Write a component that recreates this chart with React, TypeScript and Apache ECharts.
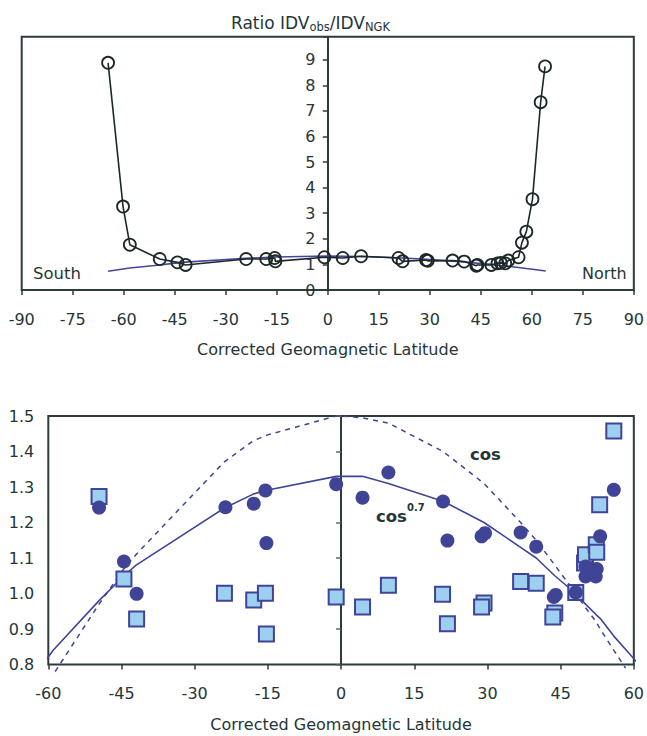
import React, { useEffect, useRef } from "react";
import * as echarts from "echarts";

// ---------- Top panel: ratio IDVobs/IDVNGK ----------
const TOP_LAT = [-64.6, -60.2, -58.2, -49.4, -44.2, -41.8, -24.0, -18.1, -15.6, -15.4, -1.0, 4.4, 9.8, 20.8, 22.0, 28.9, 29.4, 36.7, 40.1, 43.7, 44.0, 48.1, 49.9, 50.9, 52.2, 53.1, 56.1, 57.1, 58.4, 60.2, 62.6, 63.9];
const TOP_RATIO = [8.88, 3.26, 1.77, 1.21, 1.08, 0.98, 1.21, 1.21, 1.25, 1.12, 1.28, 1.25, 1.32, 1.25, 1.12, 1.17, 1.14, 1.15, 1.11, 0.95, 0.98, 0.98, 1.04, 1.06, 1.04, 1.15, 1.28, 1.85, 2.28, 3.55, 7.34, 8.74];
const TOP_MODEL_LAT = [-64.6, -60.2, -58.2, -49.4, -44.2, -41.8, -24.0, -15.5, 0, 9.8, 20.8, 29.0, 36.7, 40.1, 43.8, 48.1, 50.0, 53.1, 56.1, 58.4, 60.2, 64.1];
const TOP_MODEL_VAL = [0.73, 0.82, 0.86, 0.98, 1.06, 1.09, 1.24, 1.29, 1.33, 1.31, 1.26, 1.2, 1.13, 1.1, 1.05, 1.0, 0.97, 0.93, 0.88, 0.84, 0.81, 0.74];

// ---------- Bottom panel ----------
const DOT_LAT = [-49.6, -44.5, -41.9, -23.7, -17.9, -15.5, -15.3, -1.0, 4.4, 9.7, 20.9, 21.8, 28.8, 29.5, 36.8, 40.0, 43.6, 44.0, 48.1, 50.1, 50.1, 52.4, 52.2, 53.1, 55.9];
const DOT_VAL = [1.242, 1.09, 0.999, 1.243, 1.253, 1.29, 1.142, 1.308, 1.27, 1.341, 1.259, 1.149, 1.161, 1.17, 1.172, 1.132, 0.99, 0.996, 1.003, 1.076, 1.048, 1.069, 1.048, 1.161, 1.292];
const SQ_LAT = [-49.6, -44.5, -41.9, -23.9, -17.9, -15.5, -15.3, -1.0, 4.4, 9.7, 20.8, 21.8, 29.3, 28.8, 36.8, 40.0, 43.8, 43.4, 48.1, 49.9, 50.1, 52.3, 52.4, 53.0, 55.9];
const SQ_VAL = [1.273, 1.041, 0.928, 1.001, 0.982, 1.001, 0.886, 0.99, 0.962, 1.023, 0.998, 0.915, 0.973, 0.962, 1.034, 1.029, 0.945, 0.934, 1.003, 1.086, 1.109, 1.137, 1.116, 1.25, 1.458];
const COS07_LAT = [-61.7, -59.0, -49.6, -44.5, -42.0, -24.0, -18.0, -15.5, -1.0, 0, 4.4, 9.7, 20.9, 29.3, 36.8, 40.0, 43.8, 48.1, 50.1, 52.3, 53.1, 55.9, 61.7];
const COS07_VAL = [0.79, 0.84, 0.98, 1.05, 1.08, 1.24, 1.28, 1.29, 1.33, 1.33, 1.33, 1.31, 1.26, 1.2, 1.13, 1.1, 1.05, 1.0, 0.97, 0.94, 0.93, 0.88, 0.79];
const COS_LAT = [-58.6, -49.6, -44.5, -42.0, -24.0, -18.0, -15.5, -1.0, 0, 4.4, 9.7, 20.9, 29.3, 36.8, 40.0, 43.8, 48.1, 50.1, 52.3, 53.1, 55.9, 58.3];
const COS_VAL = [0.78, 0.97, 1.07, 1.11, 1.37, 1.43, 1.445, 1.5, 1.5, 1.495, 1.48, 1.4, 1.31, 1.2, 1.15, 1.08, 1.0, 0.96, 0.92, 0.9, 0.84, 0.79];

const TEXT = "#253636";
const FRAME = "#2c3c3c";
const BLUE = "#3f4496";
const LIGHT = "#9dd0f0";
const FONT = "DejaVu Sans";

const TOP_LEFT = 21.7;
const TOP_WIDTH = 613.3;

const zip = (a: number[], b: number[]) => a.map((v, i) => [v, b[i]]);

export default function App() {
  const ref = useRef<HTMLDivElement>(null);
  useEffect(() => {
    if (!ref.current) return;
    const chart = echarts.init(ref.current, undefined, { renderer: "svg" });
    const labelStyle = { color: TEXT, fontFamily: FONT, fontSize: 16 };
    chart.setOption({
      animation: false,
      backgroundColor: "#fff",
      title: {
        left: 226,
        top: 8,
        text: "{a|Ratio IDV}{b|obs}{a|/IDV}{b|NGK}",
        textStyle: {
          fontWeight: "normal",
          rich: {
            a: { fontFamily: FONT, fontSize: 17, fontWeight: "normal", color: TEXT, lineHeight: 20 },
            b: { fontFamily: FONT, fontSize: 11.5, fontWeight: "normal", color: TEXT, lineHeight: 11.5, verticalAlign: "bottom" },
          },
        },
      },
      grid: [
        { left: TOP_LEFT, top: 36.7, width: TOP_WIDTH, height: 253.3, show: true, borderColor: FRAME, borderWidth: 2, backgroundColor: "transparent" },
        { left: 48.3, top: 416, width: 587.7, height: 248.5, show: true, borderColor: FRAME, borderWidth: 2, backgroundColor: "transparent" },
      ],
      xAxis: [
        {
          gridIndex: 0, type: "value", min: -90, max: 90, interval: 15,
          axisLine: { show: false },
          axisTick: { show: true, length: 5, lineStyle: { color: FRAME, width: 1.5 } },
          axisLabel: { ...labelStyle, margin: 21 },
          splitLine: { show: false },
          name: "Corrected Geomagnetic Latitude", nameLocation: "middle", nameGap: 51,
          nameTextStyle: { color: TEXT, fontFamily: FONT, fontSize: 16 },
        },
        {
          gridIndex: 1, type: "value", min: -60, max: 60, interval: 15,
          axisLine: { show: false },
          axisTick: { show: true, length: 5, lineStyle: { color: FRAME, width: 1.5 } },
          axisLabel: { ...labelStyle, margin: 21 },
          splitLine: { show: false },
          name: "Corrected Geomagnetic Latitude", nameLocation: "middle", nameGap: 52,
          nameTextStyle: { color: TEXT, fontFamily: FONT, fontSize: 16 },
        },
      ],
      yAxis: [
        {
          gridIndex: 0, type: "value", min: 0, max: 9.9, interval: 1, position: "left",
          axisLine: { show: true, onZero: true, lineStyle: { color: FRAME, width: 2 } },
          axisTick: { show: true, length: 5, lineStyle: { color: FRAME, width: 1.5 } },
          axisLabel: { show: false },
          splitLine: { show: false },
        },
        {
          gridIndex: 0, type: "value", min: 0, max: 9.9, interval: 1, position: "left",
          offset: -(TOP_WIDTH / 2),
          axisLine: { show: false, onZero: false },
          axisTick: { show: false },
          axisLabel: { ...labelStyle, margin: 13, formatter: (v: number) => (Number.isInteger(v) ? String(v) : "") },
          splitLine: { show: false },
        },
        {
          gridIndex: 1, type: "value", min: 0.8, max: 1.5, interval: 0.1, position: "left",
          axisLine: { show: false, onZero: false },
          axisTick: { show: false },
          axisLabel: { ...labelStyle, margin: 14, formatter: (v: number) => v.toFixed(1) },
          splitLine: { show: false },
        },
        {
          gridIndex: 1, type: "value", min: 0.8, max: 1.5, interval: 0.1, position: "left",
          axisLine: { show: true, onZero: true, lineStyle: { color: FRAME, width: 2 } },
          axisTick: { show: true, length: 5, lineStyle: { color: "#5a6868", width: 1.5 } },
          axisLabel: { show: false },
          splitLine: { show: false },
        },
      ],
      graphic: [
        { type: "text", left: 33, top: 265, style: { text: "South", fill: TEXT, font: `16.5px '${FONT}'` } },
        { type: "text", left: 582, top: 265, style: { text: "North", fill: TEXT, font: `16px '${FONT}'` } },
        { type: "text", left: 470, top: 446, style: { text: "cos", fill: TEXT, font: `bold 16.5px '${FONT}'` } },
        { type: "text", left: 376, top: 508, style: { text: "cos", fill: TEXT, font: `bold 16.5px '${FONT}'` } },
        { type: "text", left: 407, top: 502, style: { text: "0.7", fill: TEXT, font: `bold 10px '${FONT}'` } },
      ],
      series: [
        {
          type: "line", xAxisIndex: 0, yAxisIndex: 0, data: zip(TOP_MODEL_LAT, TOP_MODEL_VAL),
          symbol: "none", lineStyle: { color: "#46469a", width: 1.6 }, z: 2,
        },
        {
          type: "line", xAxisIndex: 0, yAxisIndex: 0, data: zip(TOP_LAT, TOP_RATIO),
          symbol: "circle", symbolSize: 12,
          itemStyle: { color: "rgba(0,0,0,0)", borderColor: "#1c2828", borderWidth: 1.8 },
          lineStyle: { color: "#1c2828", width: 1.6 }, z: 3,
        },
        {
          type: "line", xAxisIndex: 1, yAxisIndex: 2, data: zip(COS_LAT, COS_VAL), clip: false,
          symbol: "none", lineStyle: { color: BLUE, width: 1.5, type: [5, 5] }, z: 2,
        },
        {
          type: "line", xAxisIndex: 1, yAxisIndex: 2, data: zip(COS07_LAT, COS07_VAL), clip: false,
          symbol: "none", lineStyle: { color: BLUE, width: 1.6 }, z: 2,
        },
        {
          type: "scatter", xAxisIndex: 1, yAxisIndex: 2, data: zip(SQ_LAT, SQ_VAL),
          symbol: "rect", symbolSize: 15,
          itemStyle: { color: LIGHT, borderColor: BLUE, borderWidth: 2, opacity: 1 }, z: 3,
        },
        {
          type: "scatter", xAxisIndex: 1, yAxisIndex: 2, data: zip(DOT_LAT, DOT_VAL),
          symbol: "circle", symbolSize: 14,
          itemStyle: { color: BLUE, opacity: 1 }, z: 4,
        },
      ],
    });
    return () => chart.dispose();
  }, []);
  return <div ref={ref} style={{ position: "absolute", left: 0, top: 0, width: 647, height: 736 }} />;
}
